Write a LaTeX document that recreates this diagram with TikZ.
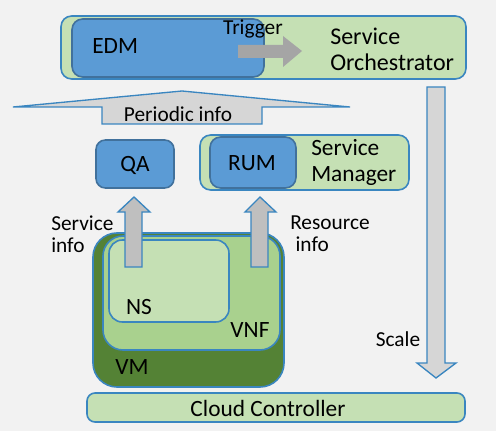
\documentclass[tikz,border=0pt]{standalone}
\usepackage{fontspec}
\setmainfont{Carlito}
\begin{document}
\begin{tikzpicture}[x=0.75pt,y=-0.75pt,
  lbl/.style={font=\fontsize{17.5}{19.5}\selectfont, inner sep=0pt, text=black},
  slbl/.style={font=\fontsize{16}{16.5}\selectfont, inner sep=0pt, text=black},
  box/.style={draw=bord, line width=1.2pt},
  garrow/.style={draw=bord, line width=1pt, fill=lgray},
]
\definecolor{bg}{HTML}{F2F2F2}
\definecolor{bord}{HTML}{3A86C0}
\definecolor{dbord}{HTML}{41719C}
\definecolor{edm}{HTML}{5B9BD5}
\definecolor{lgreen}{HTML}{C5E0B4}
\definecolor{mgreen}{HTML}{A9D18E}
\definecolor{dgreen}{HTML}{548235}
\definecolor{lgray}{HTML}{D6D6D6}
\definecolor{mgray}{HTML}{A5A5A5}
\definecolor{sgray}{HTML}{BFBFBF}
\fill[bg] (0,0) rectangle (496,431);
\useasboundingbox (0,0) rectangle (496,431);

% Service Orchestrator
\draw[box, fill=lgreen, rounded corners=8pt] (61,16) rectangle (466,79);
\draw[box, draw=dbord, fill=edm, rounded corners=8pt] (72,19) rectangle (264,77);
\node[lbl, anchor=west] (edm) at (92,46) {EDM};
\node[lbl, font=\fontsize{18}{19.5}\selectfont, anchor=west, align=left] (so) at (330,49) {Service\\Orchestrator};
\fill[mgray] (238,45) -- (283,45) -- (283,36) -- (302,51) -- (283,67) -- (283,58) -- (238,58) -- cycle;
\node[slbl, anchor=center] (trig) at (253,29) {Trigger};

% Periodic info
\draw[garrow] (182,91) -- (350,107) -- (262,107) -- (262,124) -- (102,124) -- (102,107) -- (13,107) -- cycle;
\node[slbl] (per) at (178,114) {Periodic info};

% Scale arrow
\draw[garrow] (427,87) -- (445,87) -- (445,363) -- (456,363) -- (436,378) -- (417,363) -- (427,363) -- cycle;
\node[slbl] (scale) at (398,339) {Scale};

% QA
\draw[box, draw=dbord, fill=edm, rounded corners=7pt] (96,140) rectangle (174,188);
\node[lbl] (qa) at (135,165) {QA};

% Service Manager
\draw[box, fill=lgreen, rounded corners=8pt] (200,135) rectangle (409,190);
\draw[box, draw=dbord, fill=edm, rounded corners=8pt] (210,137) rectangle (296,188);
\node[lbl] (rum) at (252,163) {RUM};
\node[lbl, anchor=west, align=left] (sm) at (311,162) {Service\\Manager};

% VM / VNF / NS
\draw[box, fill=dgreen, rounded corners=18pt] (93,233) rectangle (284,387);
\draw[box, fill=mgreen, rounded corners=15pt] (103,236) rectangle (280,350);
\draw[box, fill=lgreen, rounded corners=10pt] (109,240) rectangle (229,322);
\node[lbl] (ns) at (139,307) {NS};
\node[lbl] (vnf) at (250,330) {VNF};
\node[lbl] (vm) at (132,367) {VM};

% Service info / Resource info arrows
\draw[garrow, fill=sgray] (125,267) -- (125,212) -- (118,212) -- (134,197) -- (150,212) -- (142,212) -- (142,267) -- cycle;
\draw[garrow, fill=sgray] (251,267) -- (251,212) -- (245,212) -- (260,197) -- (276,212) -- (268,212) -- (268,267) -- cycle;
\node[slbl, anchor=west, align=left, font=\fontsize{16}{16.5}\selectfont] (si) at (51,234) {Service\\info};
\node[slbl, anchor=west, align=left, font=\fontsize{16}{16.5}\selectfont] (ri) at (290,234) {Resource\\\hspace{4pt}info};

% Cloud Controller
\draw[box, fill=lgreen, rounded corners=6pt] (87,393) rectangle (465,422);
\node[lbl] (cc) at (268,408) {Cloud Controller};
\end{tikzpicture}
\end{document}
